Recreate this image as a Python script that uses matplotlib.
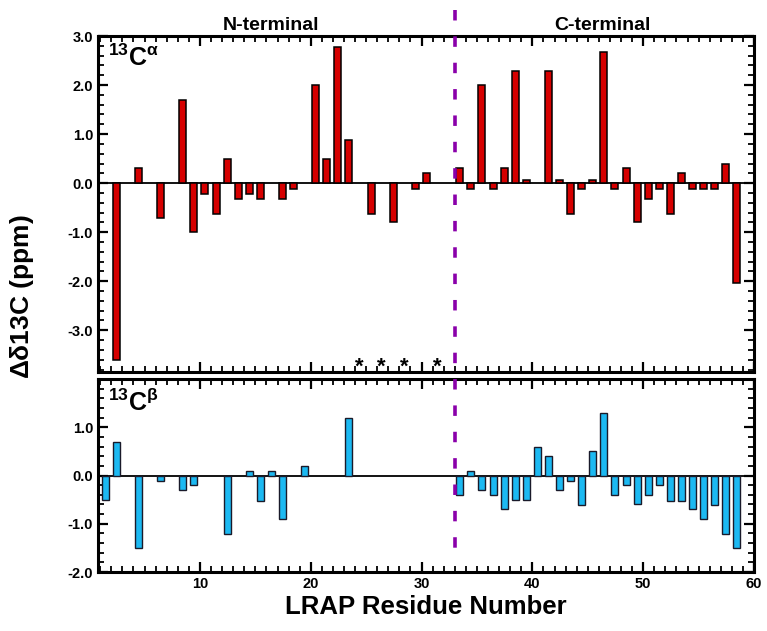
import matplotlib
matplotlib.use("Agg")
import matplotlib.pyplot as plt
import matplotlib.transforms as mtransforms
from matplotlib.lines import Line2D
from matplotlib.ticker import MultipleLocator, FormatStrFormatter

# residue numbers and chemical shift differences (ppm)
ca_res = [3, 5, 7, 9, 10, 11, 12, 13, 14, 15, 16, 18, 19, 21, 22, 23, 24, 26, 28, 30, 31,
          34, 35, 36, 37, 38, 39, 40, 42, 43, 44, 45, 46, 47, 48, 49, 50, 51, 52, 53, 54,
          55, 56, 57, 58, 59]
ca_val = [-3.6, 0.3, -0.72, 1.7, -1.0, -0.22, -0.63, 0.5, -0.33, -0.22, -0.33, -0.33, -0.12,
          2.0, 0.5, 2.78, 0.88, -0.63, -0.8, -0.12, 0.2,
          0.3, -0.12, 2.0, -0.12, 0.3, 2.28, 0.07, 2.28, 0.07, -0.63, -0.12, 0.07, 2.68,
          -0.12, 0.3, -0.8, -0.33, -0.12, -0.63, 0.2, -0.12, -0.12, -0.12, 0.4, -2.03]

cb_res = [2, 3, 5, 7, 9, 10, 13, 15, 16, 17, 18, 20, 24,
          34, 35, 36, 37, 38, 39, 40, 41, 42, 43, 44, 45, 46, 47, 48, 49, 50, 51, 52, 53,
          54, 55, 56, 57, 58, 59]
cb_val = [-0.5, 0.7, -1.5, -0.12, -0.3, -0.2, -1.22, 0.1, -0.52, 0.1, -0.9, 0.2, 1.2,
          -0.4, 0.1, -0.3, -0.4, -0.7, -0.5, -0.5, 0.6, 0.4, -0.3, -0.12, -0.62, 0.5, 1.3,
          -0.4, -0.2, -0.6, -0.4, -0.2, -0.52, -0.52, -0.7, -0.9, -0.62, -1.22, -1.5]

# residues with no assignment
star_res = [25, 27, 29, 32]
boundary = 33

plt.rcParams['font.family'] = ['Liberation Sans', 'DejaVu Sans']
plt.rcParams['font.weight'] = 'bold'
plt.rcParams['mathtext.fontset'] = 'custom'
plt.rcParams['mathtext.rm'] = 'Liberation Sans'
plt.rcParams['mathtext.it'] = 'Liberation Sans:italic'
plt.rcParams['mathtext.bf'] = 'Liberation Sans:bold'
plt.rcParams['axes.unicode_minus'] = False

W, H = 767, 631
OFF = 0.55   # bars sit just left of the residue number
BW = 0.63


def style_axis(ax, ylim, major_y):
    ax.set_xlim(0.8, 60)
    ax.set_ylim(*ylim)
    ax.xaxis.set_major_locator(MultipleLocator(10))
    ax.xaxis.set_minor_locator(MultipleLocator(1))
    ax.yaxis.set_major_locator(MultipleLocator(1.0))
    ax.yaxis.set_minor_locator(MultipleLocator(0.2))
    ax.yaxis.set_major_formatter(FormatStrFormatter('%.1f'))
    ax.tick_params(which='both', direction='in', top=True, right=True, labelsize=10.5)
    ax.tick_params(which='major', length=7, width=1.6)
    ax.tick_params(which='minor', length=4, width=1.3)
    for s in ax.spines.values():
        s.set_linewidth(2.2)
    ax.axhline(0, color='black', lw=1.3, zorder=1)
    if major_y is not None:
        ax.set_yticks(major_y)


def main():
    fig = plt.figure(figsize=(W / 100, H / 100), dpi=100)
    ax1 = fig.add_axes([98 / W, 1 - 372 / H, 656 / W, 336 / H])
    ax2 = fig.add_axes([98 / W, 1 - 572 / H, 656 / W, 193 / H])

    ax1.bar([r - OFF for r in ca_res], ca_val, width=BW, color='#d60000',
            edgecolor='black', linewidth=1.1, zorder=2)
    ax2.bar([r - OFF for r in cb_res], cb_val, width=BW, color='#1cb9f2',
            edgecolor='#1a1a2a', linewidth=1.0, zorder=2)

    style_axis(ax1, (-3.85, 3.0), [-3, -2, -1, 0, 1, 2, 3])
    style_axis(ax2, (-2.0, 2.0), [-2, -1, 0, 1])
    ax1.tick_params(labelbottom=False)

    for r in star_res:
        ax1.text(r - 0.6, -3.70, '*', ha='center', va='center_baseline', fontsize=16,
                 zorder=5)

    ax1.text(0.016, 0.975, r'$^{\mathbf{13}}\mathbf{C}^{\mathrm{\alpha}}$',
             transform=ax1.transAxes, ha='left', va='top', fontsize=18)
    ax2.text(0.016, 0.95, r'$^{\mathbf{13}}\mathbf{C}^{\mathrm{\beta}}$',
             transform=ax2.transAxes, ha='left', va='top', fontsize=18)

    ax1.text(16.4, 3.12, 'N-terminal', ha='center', va='baseline', fontsize=14)
    ax1.text(46.3, 3.12, 'C-terminal', ha='center', va='baseline', fontsize=14)

    ax2.set_xlabel('LRAP Residue Number', fontsize=18.5, fontweight='bold', labelpad=3)
    fig.text(22 / W, 1 - 297 / H, r'$\mathrm{\Delta\delta}$13C (ppm)', rotation=90,
             ha='center', va='center', fontsize=19)

    # dashed boundary between N- and C-terminal regions
    trans = mtransforms.blended_transform_factory(ax1.transData, fig.transFigure)
    line = Line2D([boundary, boundary], [1 - 10 / H, 1 - 558 / H], transform=trans,
                  color='#8a00aa', lw=2.6, dashes=(2.9, 4.4))
    fig.add_artist(line)

    fig.savefig('out.png', dpi=100)


if __name__ == "__main__":
    main()
